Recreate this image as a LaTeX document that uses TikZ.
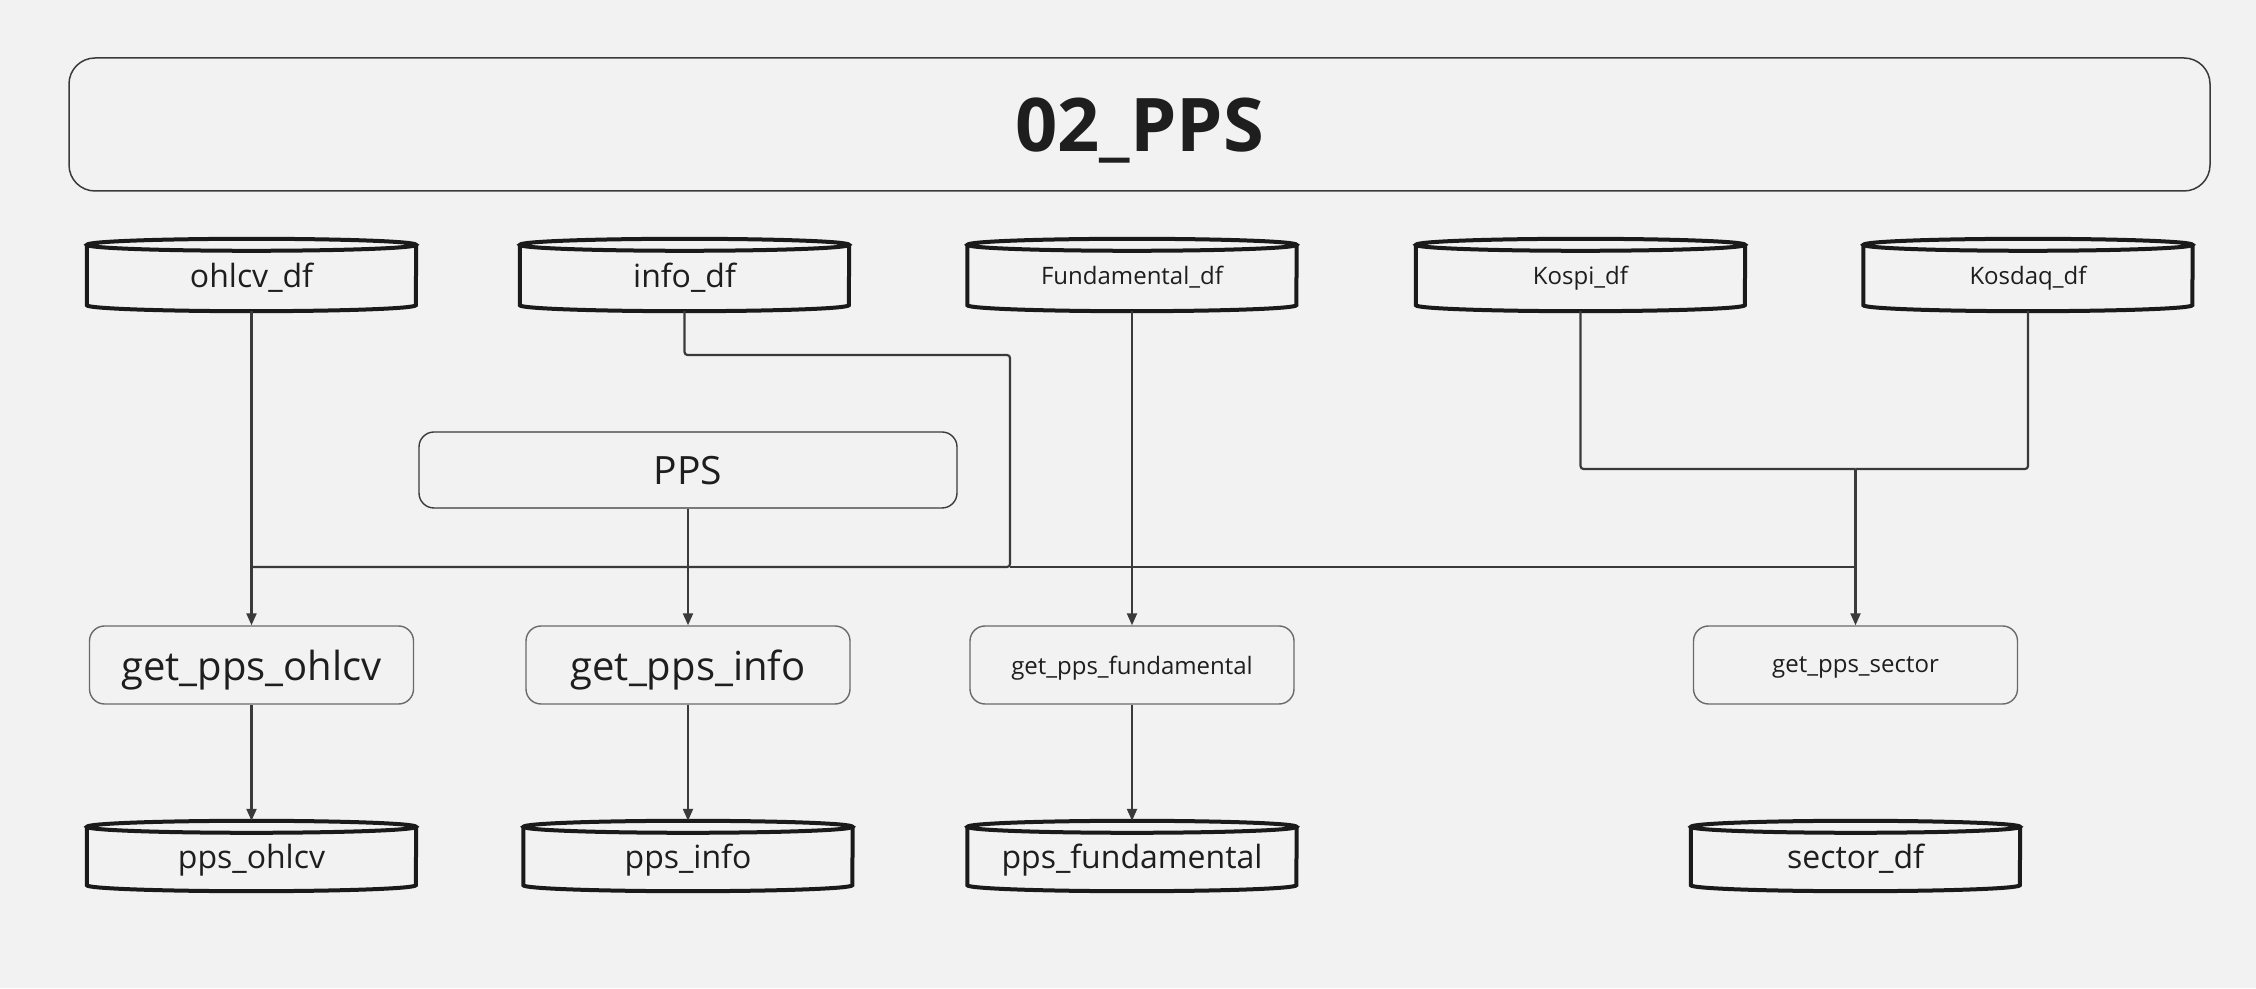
\documentclass[tikz,border=0pt]{standalone}
\usepackage{fontspec}
\setmainfont{Open Sans}
\usetikzlibrary{arrows.meta}
\definecolor{bgcol}{HTML}{F2F2F2}
\definecolor{txtcol}{HTML}{1E1E1E}
\definecolor{cylcol}{HTML}{1A1A1A}
\definecolor{boxcol}{HTML}{6A6A6A}
\definecolor{linecol}{HTML}{3A3A3A}
\newcommand\fsTitle{\fontsize{74pt}{84pt}\selectfont\bfseries}
\newcommand\fsBig{\fontsize{40pt}{46pt}\selectfont}
\newcommand\fsMid{\fontsize{32pt}{38pt}\selectfont}
\newcommand\fsSmall{\fontsize{24pt}{28pt}\selectfont}
\tikzset{
  cylnode/.style={draw=none, minimum width=329pt, minimum height=72pt, inner sep=0pt, text=txtcol, text depth=0pt},
  cylline/.style={draw=cylcol, line width=4pt},
  funcbox/.style={draw=boxcol, line width=1.4pt, rounded corners=15pt, minimum width=324pt, minimum height=78pt, inner sep=0pt, text=txtcol, text depth=0pt},
  conn/.style={draw=linecol, line width=2.2pt, rounded corners=3pt},
  arr/.style={conn, -{Triangle[length=12pt,width=10pt]}},
}
\newcommand\drawcyl[2]{%
  \draw[cylline] ([yshift=-6pt]#1.north) ellipse [x radius=164.5pt, y radius=6pt];
  \draw[cylline] ([yshift=-6pt]#1.north west) -- ([yshift=#2]#1.south west)
     arc [start angle=180, end angle=360, x radius=164.5pt, y radius=6pt]
     -- ([yshift=-6pt]#1.north east);
}
\begin{document}
\begin{tikzpicture}[x=1pt,y=1pt]
\fill[bgcol] (0,0) rectangle (2256,988);
\useasboundingbox (0,0) rectangle (2256,988);

% title
\node[draw=linecol, line width=1.5pt, rounded corners=26pt, minimum width=2141pt, minimum height=133pt,
      inner sep=0pt, text=txtcol, font=\fsTitle, text depth=0pt] (title) at (1139.5,863.5) {02\_PPS};

% top cylinders
\node[cylnode, font=\fsMid]   (ohlcv_df) at (251.5,713) {ohlcv\_df};
\node[cylnode, font=\fsMid]   (info_df) at (684.5,713) {info\_df};
\node[cylnode, font=\fsSmall] (fund_df) at (1132,713) {Fundamental\_df};
\node[cylnode, font=\fsSmall] (kospi_df) at (1580.5,713) {Kospi\_df};
\node[cylnode, font=\fsSmall] (kosdaq_df) at (2028,713) {Kosdaq\_df};
\foreach \n in {ohlcv_df,info_df,fund_df,kospi_df,kosdaq_df}{\drawcyl{\n}{6pt}}

% PPS box
\node[funcbox, draw=linecol, minimum width=538pt, minimum height=76pt, font=\fontsize{39pt}{44pt}\selectfont] (pps) at (688,518) {PPS};

% function boxes
\node[funcbox, font=\fsBig]   (g_ohlcv) at (251.5,323) {get\_pps\_ohlcv};
\node[funcbox, font=\fsBig]   (g_info) at (688,323) {get\_pps\_info};
\node[funcbox, font=\fsSmall] (g_fund) at (1132,323) {get\_pps\_fundamental};
\node[funcbox, font=\fsSmall] (g_sector) at (1855.5,323) {get\_pps\_sector};

% bottom cylinders
\node[cylnode, minimum height=70pt, font=\fsMid] (pps_ohlcv) at (251.5,132) {pps\_ohlcv};
\node[cylnode, minimum height=70pt, font=\fsMid] (pps_info) at (688,132) {pps\_info};
\node[cylnode, minimum height=70pt, font=\fsMid] (pps_fund) at (1132,132) {pps\_fundamental};
\node[cylnode, minimum height=70pt, font=\fsMid] (sector_df) at (1855.5,132) {sector\_df};
\foreach \n in {pps_ohlcv,pps_info,pps_fund,sector_df}{\drawcyl{\n}{6pt}}

% junction coordinates
\coordinate (ibend) at (1010,633);
\coordinate (busL) at (251.5,421);
\coordinate (busR) at (1855.5,421);
\coordinate (kjoin) at (1855.5,519);

% connectors
\draw[arr] (ohlcv_df.south) -- (g_ohlcv.north);
\draw[arr] (pps.south) -- (g_info.north);
\draw[arr] (fund_df.south) -- (g_fund.north);
\draw[conn] (info_df.south) |- (ibend) |- (busL);
\draw[conn] (ibend |- busL) -- (busR);
\draw[conn] (kospi_df.south) |- (kjoin);
\draw[conn] (kosdaq_df.south) |- (kjoin);
\draw[arr] (kjoin) -- (g_sector.north);

\draw[arr] (g_ohlcv.south) -- (pps_ohlcv.north);
\draw[arr] (g_info.south) -- (pps_info.north);
\draw[arr] (g_fund.south) -- (pps_fund.north);
\end{tikzpicture}
\end{document}
